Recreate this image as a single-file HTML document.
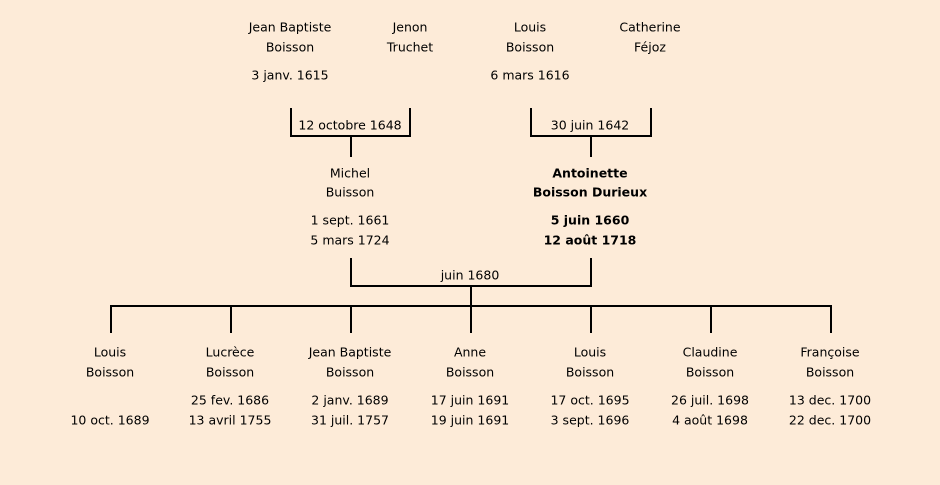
<!DOCTYPE html>
<html><head><meta charset="utf-8"><style>
html,body{margin:0;padding:0;background:#fdebd8;}
svg{display:block}
text{font-family:"Comic Sans MS","DejaVu Sans",sans-serif;font-size:12.5px;fill:#000;text-anchor:middle;dominant-baseline:middle}
.b{font-weight:bold}
</style></head><body>
<svg width="940" height="485" viewBox="0 0 940 485">
<rect width="940" height="485" fill="#fdebd8"/>
<g stroke="#000" stroke-width="2" fill="none">
<path d="M291 108V136H410V108M351 136V157"/>
<path d="M531 108V136H651V108M591 136V157"/>
<path d="M351 258V286H591V258M471 286V306"/>
<path d="M110 306H832"/>
<path d="M111 306V333M231 306V333M351 306V333M471 306V333M591 306V333M711 306V333M831 306V333"/>
</g>
<g transform="translate(0,1)">
<text x="290" y="27">Jean Baptiste</text><text x="290" y="47">Boisson</text><text x="290" y="75">3 janv. 1615</text>
<text x="410" y="27">Jenon</text><text x="410" y="47">Truchet</text>
<text x="530" y="27">Louis</text><text x="530" y="47">Boisson</text><text x="530" y="75">6 mars 1616</text>
<text x="650" y="27">Catherine</text><text x="650" y="47">Féjoz</text>
<text x="350" y="125">12 octobre 1648</text>
<text x="590" y="125">30 juin 1642</text>
<text x="350" y="173">Michel</text><text x="350" y="192">Buisson</text>
<text x="350" y="220">1 sept. 1661</text><text x="350" y="240">5 mars 1724</text>
<text class="b" x="590" y="173">Antoinette</text><text class="b" x="590" y="192">Boisson Durieux</text>
<text class="b" x="590" y="220">5 juin 1660</text><text class="b" x="590" y="240">12 août 1718</text>
<text x="470" y="275">juin 1680</text>
<text x="110" y="352">Louis</text><text x="110" y="372">Boisson</text><text x="110" y="420">10 oct. 1689</text>
<text x="230" y="352">Lucrèce</text><text x="230" y="372">Boisson</text><text x="230" y="400">25 fev. 1686</text><text x="230" y="420">13 avril 1755</text>
<text x="350" y="352">Jean Baptiste</text><text x="350" y="372">Boisson</text><text x="350" y="400">2 janv. 1689</text><text x="350" y="420">31 juil. 1757</text>
<text x="470" y="352">Anne</text><text x="470" y="372">Boisson</text><text x="470" y="400">17 juin 1691</text><text x="470" y="420">19 juin 1691</text>
<text x="590" y="352">Louis</text><text x="590" y="372">Boisson</text><text x="590" y="400">17 oct. 1695</text><text x="590" y="420">3 sept. 1696</text>
<text x="710" y="352">Claudine</text><text x="710" y="372">Boisson</text><text x="710" y="400">26 juil. 1698</text><text x="710" y="420">4 août 1698</text>
<text x="830" y="352">Françoise</text><text x="830" y="372">Boisson</text><text x="830" y="400">13 dec. 1700</text><text x="830" y="420">22 dec. 1700</text>
</g>
</svg>
</body></html>
